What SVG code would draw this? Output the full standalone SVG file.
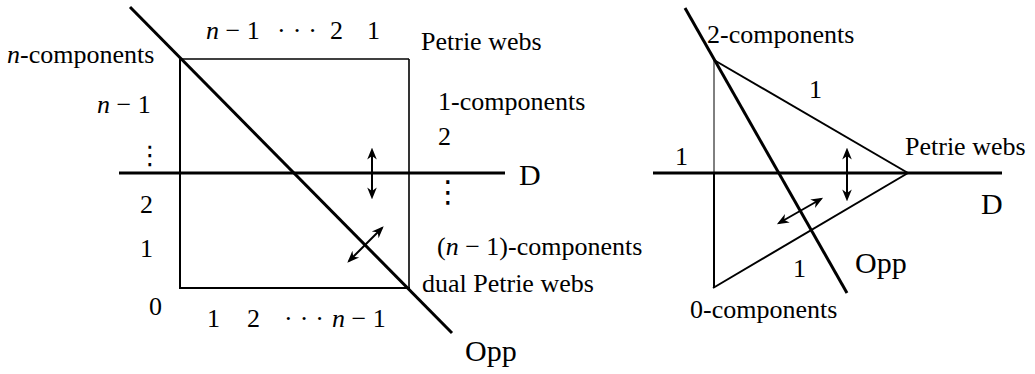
<svg xmlns="http://www.w3.org/2000/svg" width="1035" height="374" viewBox="0 0 1035 374">
<style>
text{font-family:"Liberation Serif","Times New Roman",serif;font-size:26px;fill:#000}
.i{font-style:italic}
.big{font-size:30px}
.vd{font-family:"DejaVu Serif","DejaVu Sans",serif}
.thick{stroke:#000;stroke-width:3;fill:none}
.edge{stroke:#000;stroke-width:2;fill:none}
.thin{stroke:#000;stroke-width:1.2;fill:none}
.arr{stroke:#000;stroke-width:2;fill:none;marker-start:url(#ah);marker-end:url(#ah)}
</style>
<defs>
<marker id="ah" viewBox="0 0 10 10" refX="8" refY="5" markerWidth="6" markerHeight="6" orient="auto-start-reverse" markerUnits="strokeWidth">
<path d="M0,1 L10,5 L0,9 L3,5 Z" fill="#000"/>
</marker>
</defs>
<rect width="1035" height="374" fill="#fff"/>

<g id="left-figure">
<g id="square">
<line class="edge" x1="180" y1="59" x2="180" y2="288"/>
<line class="edge" x1="179" y1="288" x2="410" y2="288"/>
<line class="thin" x1="180" y1="59" x2="409" y2="59" style="stroke-width:1.6"/>
<line class="thin" x1="409" y1="59" x2="409" y2="288" style="stroke-width:1.6"/>
</g>
<g id="left-connectors">
<line id="D-left" class="thick" x1="119" y1="173" x2="505" y2="173"/>
<line id="Opp-left" class="thick" x1="130" y1="7" x2="452" y2="333"/>
<line class="arr" x1="372" y1="150" x2="372" y2="197"/>
<line class="arr" x1="349" y1="261" x2="382" y2="228"/>
</g>
<g id="left-labels">
<text x="7" y="63"><tspan class="i">n</tspan>-components</text>
<text x="97" y="113"><tspan class="i">n</tspan> − 1</text>
<text class="vd" x="137" y="164" style="font-size:26px">⋮</text>
<text x="140" y="213">2</text>
<text x="140" y="257">1</text>
<text x="149" y="315">0</text>
<text x="206" y="39"><tspan class="i">n</tspan> − 1</text>
<text x="277" y="39" letter-spacing="7">···</text>
<text x="330" y="39">2</text>
<text x="367" y="39">1</text>
<text x="207" y="327">1</text>
<text x="247" y="327">2</text>
<text x="284" y="327" letter-spacing="7">···</text>
<text x="332" y="327"><tspan class="i">n</tspan> − 1</text>
<text x="421" y="50">Petrie webs</text>
<text x="438" y="110">1-components</text>
<text x="438" y="145">2</text>
<text class="vd" x="433" y="202" style="font-size:30px">⋮</text>
<text x="437" y="255">(<tspan class="i">n</tspan> − 1)-components</text>
<text x="422" y="292">dual Petrie webs</text>
<text class="big" x="519" y="185">D</text>
<text class="big" x="465" y="361">Opp</text>
</g>
</g>

<g id="right-figure">
<g id="triangle">
<line class="thin" x1="714" y1="60" x2="714" y2="173" style="stroke-width:1"/>
<line class="edge" x1="714" y1="173" x2="714" y2="288"/>
<line class="edge" x1="714" y1="60" x2="908" y2="173"/>
<line class="edge" x1="713" y1="288" x2="908" y2="173"/>
</g>
<g id="right-connectors">
<line id="D-right" class="thick" x1="653" y1="173" x2="1002" y2="173"/>
<line id="Opp-right" class="thick" x1="685" y1="8" x2="847" y2="293"/>
<line class="arr" x1="847" y1="150" x2="847" y2="199"/>
<line class="arr" x1="779" y1="223" x2="821" y2="199"/>
</g>
<g id="right-labels">
<text x="707" y="43">2-components</text>
<text x="809" y="98">1</text>
<text x="905" y="155">Petrie webs</text>
<text x="675" y="165">1</text>
<text class="big" x="981" y="214">D</text>
<text x="793" y="277">1</text>
<text class="big" x="855" y="273">Opp</text>
<text x="690" y="318">0-components</text>
</g>
</g>
</svg>
